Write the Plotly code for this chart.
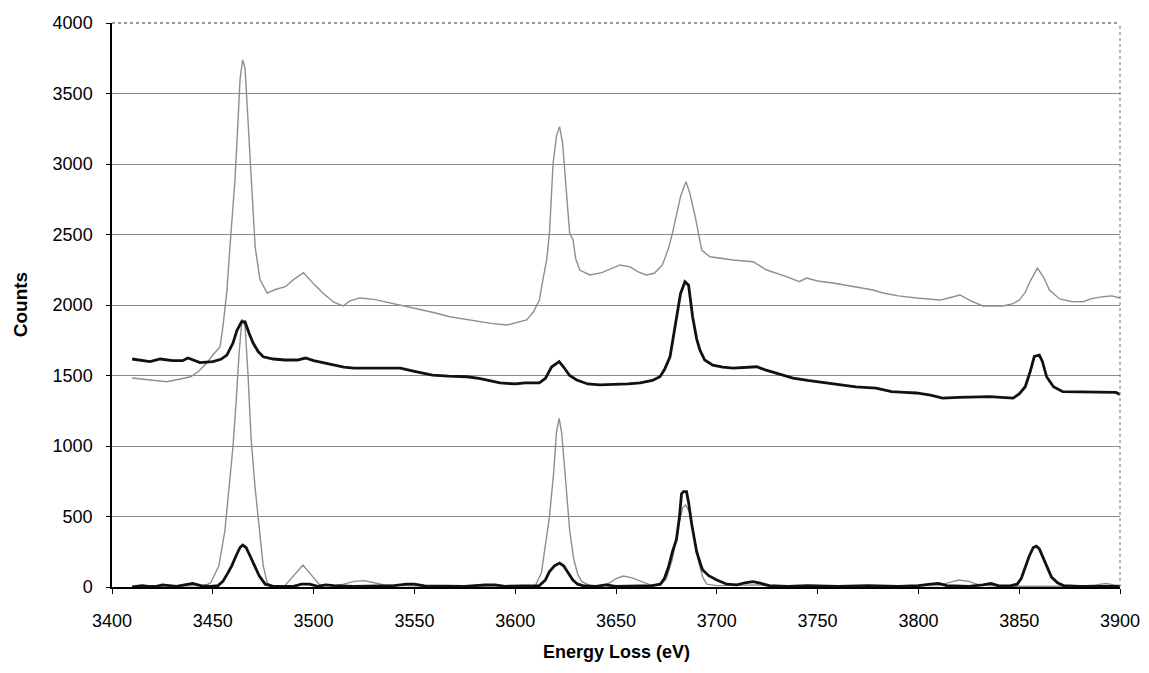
import plotly.graph_objects as go

# Upper gray spectrum (raw, sample 1)
ug_x = [3410, 3418, 3427, 3434, 3439, 3443, 3447, 3450, 3453.6, 3455, 3457, 3458.5, 3460, 3461, 3462.5, 3463.5,
        3464.8, 3466, 3467.5, 3469.3, 3471, 3473.4, 3477, 3481, 3486, 3490, 3495, 3500, 3505, 3510, 3514.6, 3518,
        3523, 3530, 3538, 3545, 3551, 3560, 3567.6, 3575, 3581, 3588, 3595.8, 3601, 3605.7, 3609, 3612, 3614,
        3615.6, 3617, 3618.8, 3620.5, 3622, 3623.5, 3625, 3627, 3628.7, 3630, 3632, 3637, 3643, 3648, 3652, 3657,
        3661, 3665, 3669, 3673, 3676, 3678, 3680, 3682, 3684.7, 3686.5, 3689.3, 3692.5, 3696.6, 3702, 3708, 3718,
        3724.7, 3734.6, 3741, 3744.5, 3750, 3757.6, 3767.5, 3777.5, 3782.5, 3790, 3799, 3810.7, 3815, 3820.6,
        3826, 3832, 3842, 3847, 3850, 3853, 3855, 3859, 3862, 3865, 3870, 3876, 3881.6, 3886, 3891.5, 3896, 3900]
ug_y = [1482, 1470, 1456, 1475, 1491, 1530, 1588, 1645, 1704, 1845, 2100, 2411, 2700, 2886, 3300, 3600,
        3738, 3680, 3300, 2886, 2411, 2180, 2085, 2110, 2130, 2180, 2229, 2150, 2080, 2020, 1993, 2030,
        2050, 2040, 2014, 1995, 1977, 1945, 1917, 1900, 1882, 1870, 1858, 1875, 1894, 1950, 2035, 2200,
        2319, 2510, 3007, 3200, 3265, 3150, 2900, 2510, 2461, 2330, 2248, 2213, 2230, 2260, 2284, 2270,
        2235, 2213, 2225, 2284, 2400, 2510, 2640, 2768, 2875, 2800, 2626, 2390, 2342, 2330, 2319, 2307,
        2248, 2201, 2165, 2191, 2170, 2156, 2130, 2106, 2085, 2065, 2050, 2035, 2050, 2071,
        2030, 1993, 1993, 2010, 2035, 2090, 2156, 2262, 2200, 2106, 2043, 2025, 2023, 2045, 2059, 2065, 2050]

# Middle black spectrum (raw, sample 2)
mb_x = [3410, 3414, 3418.8, 3424, 3430, 3435, 3437.7, 3443.6, 3450, 3454, 3457, 3460, 3462, 3464.3, 3466, 3468,
        3470, 3472.5, 3475, 3480, 3486, 3492, 3496, 3500, 3505, 3509.7, 3515, 3520, 3526, 3535, 3543, 3550,
        3559, 3567, 3576, 3582, 3588, 3592.5, 3600, 3605, 3612, 3615, 3618, 3621.8, 3624, 3627, 3630.5, 3636,
        3642, 3650, 3656, 3662, 3668, 3671.8, 3674, 3676.8, 3680, 3682, 3684.2, 3686, 3688, 3690, 3691.6, 3694,
        3698, 3703, 3708, 3714, 3719.8, 3724, 3729.7, 3737.8, 3745, 3754.5, 3762, 3769, 3779, 3786.7, 3793,
        3799, 3806, 3812, 3820, 3828, 3835.5, 3841, 3847, 3850, 3853, 3855.5, 3857.5, 3860, 3861.5, 3863.6,
        3867, 3871.6, 3876, 3881.6, 3888, 3893, 3898, 3900]
mb_y = [1617, 1610, 1598, 1617, 1605, 1605, 1624, 1591, 1598, 1615, 1645, 1730, 1820, 1882, 1880, 1800,
        1730, 1670, 1633, 1617, 1610, 1610, 1624, 1605, 1590, 1574, 1560, 1553, 1553, 1553, 1553, 1530,
        1503, 1495, 1491, 1480, 1460, 1447, 1440, 1447, 1447, 1480, 1560, 1598, 1560, 1500, 1468, 1440,
        1433, 1435, 1440, 1447, 1465, 1491, 1540, 1633, 1917, 2080, 2165, 2140, 1917, 1760, 1681, 1610,
        1574, 1560, 1553, 1560, 1562, 1540, 1515, 1482, 1465, 1447, 1435, 1420, 1411, 1385, 1380,
        1376, 1360, 1340, 1345, 1350, 1350, 1345, 1340, 1370, 1420, 1530, 1635, 1645, 1600, 1491,
        1420, 1385, 1385, 1380, 1385, 1385, 1380, 1365]

# Lower gray spectrum (background subtracted, sample 1)
lg_x = [3410, 3420, 3430, 3440, 3446, 3449, 3453, 3456, 3458.5, 3460, 3461.5, 3463, 3464.5, 3466, 3467.5, 3469,
        3471, 3473, 3475, 3477, 3480, 3485.8, 3490, 3494.7, 3498, 3503, 3510, 3515, 3520, 3525, 3530, 3535,
        3545, 3560, 3580, 3600, 3610, 3613, 3615, 3617, 3619, 3620.5, 3621.8, 3623, 3625, 3627, 3629, 3631,
        3633, 3637, 3643, 3647, 3650, 3653.6, 3658, 3663, 3667, 3672, 3675, 3678, 3680.5, 3683, 3684.5, 3686.5,
        3689, 3691, 3693, 3695, 3700, 3710, 3720, 3730, 3750, 3770, 3790, 3810, 3816, 3820, 3825, 3830, 3840,
        3850, 3858, 3866, 3880, 3888, 3893, 3897, 3900]
lg_y = [0, 5, 10, 8, 10, 30, 150, 400, 750, 995, 1300, 1650, 1900, 1850, 1500, 1050,
        700, 400, 150, 30, 5, 10, 80, 156, 100, 15, 10, 20, 40, 45, 30, 15,
        10, 5, 5, 5, 10, 100, 300, 499, 800, 1100, 1196, 1100, 759, 404, 200, 90,
        40, 10, 10, 30, 60, 78, 65, 35, 15, 15, 60, 200, 400, 560, 582, 530,
        350, 180, 70, 20, 10, 10, 15, 5, 5, 5, 5, 10, 35, 50, 40, 15, 5,
        5, 10, 5, 5, 15, 25, 15, 10]

# Lower black spectrum (background subtracted, sample 2)
lb_x = [3410, 3412, 3415, 3418, 3422, 3425, 3428, 3432, 3436, 3440, 3444, 3449, 3452.6, 3455, 3457.5, 3459.4,
        3461.5, 3463.5, 3464.8, 3466.5, 3468.5, 3470.9, 3473, 3476, 3480, 3490, 3494, 3498, 3502, 3506, 3510,
        3520, 3530, 3540, 3546, 3550, 3555, 3565, 3575, 3585, 3590, 3595, 3605, 3612, 3615, 3617, 3619.5, 3622,
        3624, 3626.5, 3628.6, 3631, 3633.6, 3640, 3645, 3650, 3660, 3668, 3672, 3674, 3676, 3678, 3680, 3681.5,
        3682.5, 3683.5, 3685, 3686, 3687.5, 3688.7, 3690, 3692, 3693, 3696, 3700, 3705, 3710, 3714, 3718, 3722,
        3726, 3735, 3745, 3760, 3775, 3790, 3800, 3806, 3810, 3814, 3825, 3832, 3836, 3840, 3846, 3849, 3851,
        3853, 3855, 3857, 3858.5, 3860, 3862, 3864, 3866, 3869, 3872, 3880, 3890, 3900]
lb_y = [0, 5, 10, 5, 5, 15, 10, 5, 15, 25, 10, 5, 10, 40, 100, 150,
        220, 280, 298, 280, 220, 150, 80, 20, 5, 5, 20, 20, 5, 15, 10,
        5, 10, 10, 20, 20, 8, 5, 5, 15, 15, 5, 5, 10, 50, 109, 150, 170,
        150, 100, 50, 20, 10, 5, 15, 5, 5, 10, 20, 60, 140, 250, 338, 500,
        660, 676, 676, 600, 450, 338, 250, 160, 120, 80, 50, 20, 15, 30, 38, 25,
        10, 5, 10, 5, 10, 5, 10, 20, 25, 10, 5, 15, 25, 8, 10, 20, 60,
        140, 220, 280, 290, 270, 200, 130, 70, 30, 10, 5, 5, 5]

x_ticks = [3400, 3450, 3500, 3550, 3600, 3650, 3700, 3750, 3800, 3850, 3900]
y_ticks = [0, 500, 1000, 1500, 2000, 2500, 3000, 3500, 4000]
x_title = "Energy Loss (eV)"
y_title = "Counts"

GRAY = "#8e8e8e"
fig = go.Figure()
fig.add_trace(go.Scatter(x=ug_x, y=ug_y, mode="lines", line=dict(color=GRAY, width=1.4)))
fig.add_trace(go.Scatter(x=lg_x, y=lg_y, mode="lines", line=dict(color=GRAY, width=1.4)))
fig.add_trace(go.Scatter(x=mb_x, y=mb_y, mode="lines", line=dict(color="#111111", width=2.8)))
fig.add_trace(go.Scatter(x=lb_x, y=lb_y, mode="lines", line=dict(color="#111111", width=2.8)))

font = "Liberation Sans, Arial, sans-serif"
fig.update_layout(
    width=1149, height=673,
    margin=dict(l=112, r=29, t=23, b=86),
    paper_bgcolor="white", plot_bgcolor="white",
    showlegend=False,
    font=dict(family=font, size=18, color="black"),
    xaxis=dict(range=[3400, 3900], tickvals=x_ticks, ticks="outside", ticklen=5, tickcolor="black",
               showgrid=False, zeroline=False, showline=True, linecolor="black", linewidth=1.5,
               ticklabelstandoff=12, automargin=False,
               tickfont=dict(size=18)),
    yaxis=dict(range=[0, 4000], tickvals=y_ticks, ticks="outside", ticklen=4, tickcolor="black",
               showgrid=True, gridcolor="#8a8a8a", gridwidth=1, zeroline=False,
               showline=True, linecolor="black", linewidth=1.5,
               ticklabelstandoff=10, automargin=False,
               tickfont=dict(size=18)),
    annotations=[
        dict(text="<b>" + x_title + "</b>", xref="paper", yref="paper", x=0.5, y=-0.115,
             xanchor="center", yanchor="middle", showarrow=False, font=dict(size=18)),
        dict(text="<b>" + y_title + "</b>", xref="paper", yref="paper", x=-0.091, y=0.5,
             xanchor="center", yanchor="middle", showarrow=False, textangle=-90, font=dict(size=19)),
    ],
    shapes=[
        dict(type="line", xref="paper", yref="paper", x0=0, x1=1, y0=1, y1=1,
             line=dict(color="#333333", width=1.2, dash="dot")),
        dict(type="line", xref="paper", yref="paper", x0=1, x1=1, y0=0, y1=1,
             line=dict(color="#777777", width=1, dash="dot")),
    ],
)
fig.write_html("out.html")
